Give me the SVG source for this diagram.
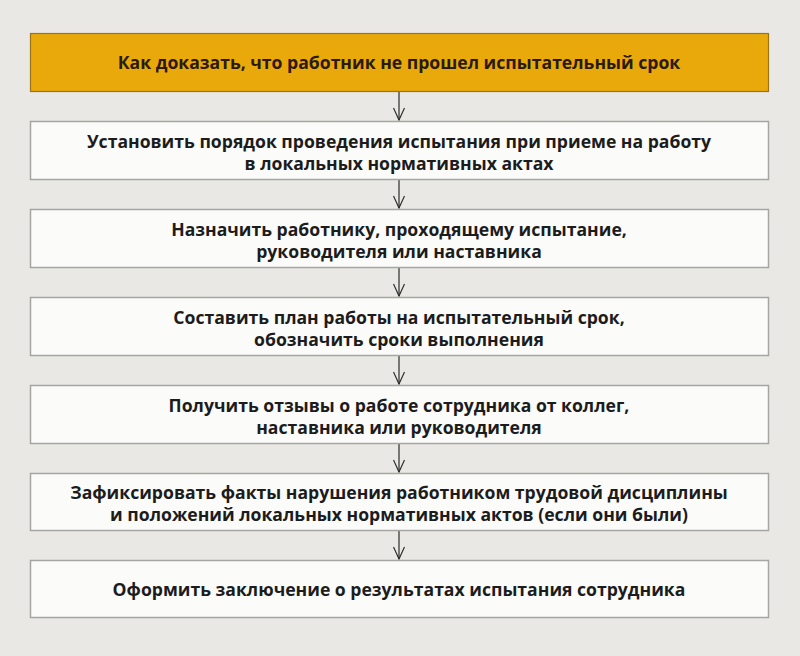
<svg xmlns="http://www.w3.org/2000/svg" width="800" height="656" viewBox="0 0 800 656">
<defs>
<style>
.bg{fill:#e9e8e4}
.gold{fill:#e9a90a;stroke:#9c7418;stroke-width:1.2}
.box{fill:#fbfbfa;stroke:#a5a5a3;stroke-width:1.5}
text{font-family:"Open Sans","Noto Sans","DejaVu Sans",sans-serif;font-weight:700;font-size:17.6px;fill:#1c1c1c;text-anchor:middle}
.t0{fill:#2b1a0a}
.c{stroke:#2a2a2a;stroke-width:1.2;fill:none}
</style>
<marker id="ah" markerWidth="14" markerHeight="12" refX="13" refY="6" orient="auto" markerUnits="userSpaceOnUse">
<path d="M1,0.5 L13,6 L1,11.5" fill="none" stroke="#2a2a2a" stroke-width="1.2"/>
</marker>
</defs>
<rect class="bg" x="0" y="0" width="800" height="656"/>
<g id="connectors">
<line class="c" x1="399" y1="92" x2="399" y2="120" marker-end="url(#ah)"/>
<line class="c" x1="399" y1="180" x2="399" y2="208" marker-end="url(#ah)"/>
<line class="c" x1="399" y1="268" x2="399" y2="296" marker-end="url(#ah)"/>
<line class="c" x1="399" y1="356" x2="399" y2="384" marker-end="url(#ah)"/>
<line class="c" x1="399" y1="444" x2="399" y2="472" marker-end="url(#ah)"/>
<line class="c" x1="399" y1="531" x2="399" y2="559" marker-end="url(#ah)"/>
</g>
<g id="n0">
<rect class="gold" x="30.5" y="33.5" width="738" height="58"/>
<text class="t0" x="399" y="68.5">Как доказать, что работник не прошел испытательный срок</text>
</g>
<g id="n1">
<rect class="box" x="30.5" y="121.5" width="738" height="58"/>
<text x="399" y="147.5">Установить порядок проведения испытания при приеме на работу</text>
<text x="399" y="169.5">в локальных нормативных актах</text>
</g>
<g id="n2">
<rect class="box" x="30.5" y="209.5" width="738" height="58"/>
<text x="399" y="235.5">Назначить работнику, проходящему испытание,</text>
<text x="399" y="257.5">руководителя или наставника</text>
</g>
<g id="n3">
<rect class="box" x="30.5" y="297.5" width="738" height="58"/>
<text x="399" y="323.5">Составить план работы на испытательный срок,</text>
<text x="399" y="345.5">обозначить сроки выполнения</text>
</g>
<g id="n4">
<rect class="box" x="30.5" y="385.5" width="738" height="58"/>
<text x="399" y="411.5">Получить отзывы о работе сотрудника от коллег,</text>
<text x="399" y="433.5">наставника или руководителя</text>
</g>
<g id="n5">
<rect class="box" x="30.5" y="473.5" width="738" height="57"/>
<text x="399" y="498.5">Зафиксировать факты нарушения работником трудовой дисциплины</text>
<text x="399" y="520.5">и положений локальных нормативных актов (если они были)</text>
</g>
<g id="n6">
<rect class="box" x="30.5" y="560.5" width="738" height="57"/>
<text x="399" y="595.5">Оформить заключение о результатах испытания сотрудника</text>
</g>
</svg>
